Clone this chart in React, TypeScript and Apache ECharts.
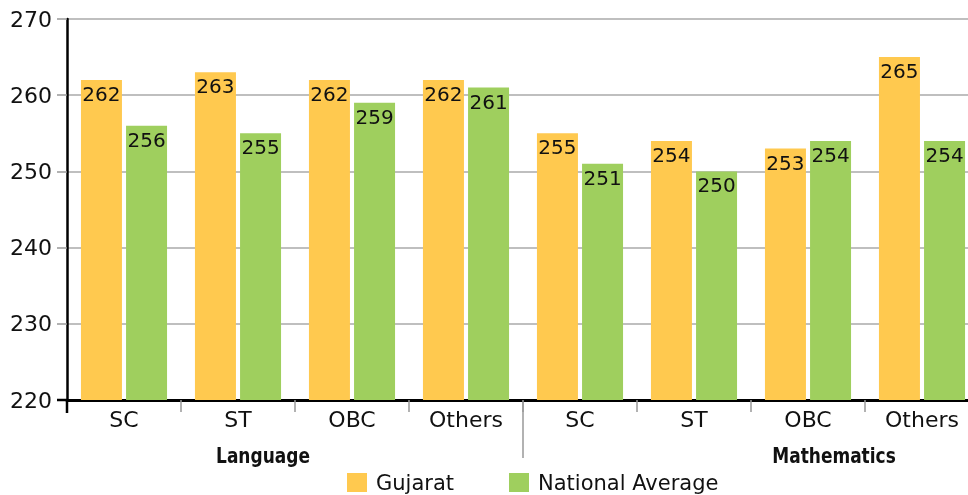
import React, { useEffect, useRef } from "react";
import * as echarts from "echarts";

const categories = ["SC", "ST", "OBC", "Others", "SC", "ST", "OBC", "Others"];
const groupLabels = ["Language", "Mathematics"];
const gujarat = [262, 263, 262, 262, 255, 254, 253, 265];
const nationalAverage = [256, 255, 259, 261, 251, 250, 254, 254];
const seriesNames = ["Gujarat", "National Average"];

const FONT = '"DejaVu Sans", sans-serif';
const GRID_LEFT = 67;
const GRID_BOTTOM_Y = 400;

export default function App() {
  const ref = useRef<HTMLDivElement>(null);
  useEffect(() => {
    if (!ref.current) return;
    const chart = echarts.init(ref.current, null, { renderer: "svg" });
    const label = {
      show: true,
      position: "insideTop",
      distance: 4,
      fontFamily: FONT,
      fontSize: 20,
      color: "#111",
    };
    const groupStyle = {
      fontFamily: '"DejaVu Sans Condensed", sans-serif',
      fontWeight: "bold",
      fontSize: 22,
      fill: "#111",
      align: "center",
      verticalAlign: "middle",
    };
    chart.setOption({
      animation: false,
      grid: { left: GRID_LEFT, right: 0, top: 19, bottom: 495 - GRID_BOTTOM_Y },
      legend: {
        data: seriesNames,
        left: 347,
        top: 472,
        padding: 0,
        icon: "rect",
        itemWidth: 20,
        itemHeight: 19,
        itemGap: 55,
        textStyle: { fontFamily: FONT, fontSize: 21, color: "#111", padding: [0, 0, 0, 4] },
      },
      xAxis: {
        type: "category",
        data: categories,
        axisLine: { show: true, lineStyle: { color: "#000", width: 3 } },
        axisTick: { show: true, interval: 0, length: 12, lineStyle: { color: "#999", width: 1.5 } },
        axisLabel: { interval: 0, fontFamily: FONT, fontSize: 22, color: "#111", margin: 8 },
        splitLine: { show: false },
      },
      yAxis: {
        type: "value",
        min: 220,
        max: 270,
        interval: 10,
        axisLine: { show: true, lineStyle: { color: "#000", width: 2.5 } },
        axisTick: { show: true, length: 10, lineStyle: { color: "#999", width: 1.5 } },
        axisLabel: { fontFamily: FONT, fontSize: 22, color: "#111", margin: 15 },
        splitLine: { show: true, lineStyle: { color: "#aaa", width: 1.5 } },
      },
      series: [
        {
          name: seriesNames[0],
          type: "bar",
          data: gujarat,
          barWidth: 41,
          barGap: "10%",
          itemStyle: { color: "#FFC94F" },
          label,
        },
        {
          name: seriesNames[1],
          type: "bar",
          data: nationalAverage,
          barWidth: 41,
          barGap: "10%",
          itemStyle: { color: "#9FCF5E" },
          label,
        },
      ],
      graphic: [
        {
          type: "line",
          shape: { x1: 523, y1: GRID_BOTTOM_Y, x2: 523, y2: 458 },
          style: { stroke: "#999", lineWidth: 1.5 },
        },
        {
          type: "line",
          shape: { x1: GRID_LEFT, y1: GRID_BOTTOM_Y, x2: GRID_LEFT, y2: 413 },
          style: { stroke: "#000", lineWidth: 2.5 },
          z: 10,
        },
        {
          type: "line",
          shape: { x1: 57, y1: GRID_BOTTOM_Y, x2: GRID_LEFT, y2: GRID_BOTTOM_Y },
          style: { stroke: "#000", lineWidth: 2.5 },
          z: 10,
        },
        {
          type: "text",
          x: 263,
          y: 455,
          scaleX: 0.86,
          style: { text: groupLabels[0], ...groupStyle },
        },
        {
          type: "text",
          x: 834,
          y: 455,
          scaleX: 0.86,
          style: { text: groupLabels[1], ...groupStyle },
        },
      ],
    });
    return () => chart.dispose();
  }, []);
  return (
    <div
      style={{ position: "fixed", left: 0, top: 0, width: 968, height: 495, overflow: "hidden" }}
    >
      <div ref={ref} style={{ width: 979, height: 495 }} />
    </div>
  );
}
